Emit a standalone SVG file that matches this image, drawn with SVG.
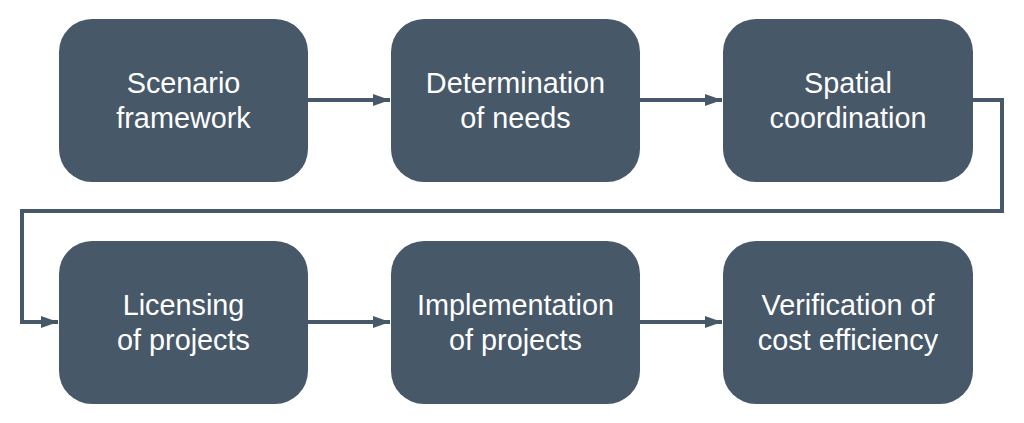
<svg xmlns="http://www.w3.org/2000/svg" width="1024" height="423" viewBox="0 0 1024 423">
<style>
.box{fill:#475869;}
.lbl{fill:#ffffff;font-family:"Liberation Sans",Arial,sans-serif;font-size:28.8px;text-anchor:middle;}
.conn{fill:none;stroke:#475869;stroke-width:4;}
</style>
<defs>
<marker id="ah" markerUnits="userSpaceOnUse" markerWidth="18" markerHeight="12" refX="17" refY="6" orient="auto">
<path d="M0,0 L17,6 L0,12 Z" fill="#475869"/>
</marker>
</defs>
<rect width="1024" height="423" fill="#ffffff"/>
<g id="connectors">
<path class="conn" d="M308,100 H390" marker-end="url(#ah)"/>
<path class="conn" d="M640,100 H722" marker-end="url(#ah)"/>
<path class="conn" d="M973,100 H1002 V211 H22 V322 H58" marker-end="url(#ah)"/>
<path class="conn" d="M308,322 H390" marker-end="url(#ah)"/>
<path class="conn" d="M640,322 H722" marker-end="url(#ah)"/>
</g>
<g id="n1"><rect class="box" x="59" y="19" width="249" height="163" rx="33"/>
<text class="lbl" x="183.5" y="93">Scenario</text><text class="lbl" x="183.5" y="128">framework</text></g>
<g id="n2"><rect class="box" x="391" y="19" width="249" height="163" rx="33"/>
<text class="lbl" x="515.5" y="93">Determination</text><text class="lbl" x="515.5" y="128">of needs</text></g>
<g id="n3"><rect class="box" x="723" y="19" width="250" height="163" rx="33"/>
<text class="lbl" x="848" y="93">Spatial</text><text class="lbl" x="848" y="128">coordination</text></g>
<g id="n4"><rect class="box" x="59" y="241" width="249" height="163" rx="33"/>
<text class="lbl" x="183.5" y="315">Licensing</text><text class="lbl" x="183.5" y="350">of projects</text></g>
<g id="n5"><rect class="box" x="391" y="241" width="249" height="163" rx="33"/>
<text class="lbl" x="515.5" y="315">Implementation</text><text class="lbl" x="515.5" y="350">of projects</text></g>
<g id="n6"><rect class="box" x="723" y="241" width="250" height="163" rx="33"/>
<text class="lbl" x="848" y="315">Verification of</text><text class="lbl" x="848" y="350">cost efficiency</text></g>
</svg>
